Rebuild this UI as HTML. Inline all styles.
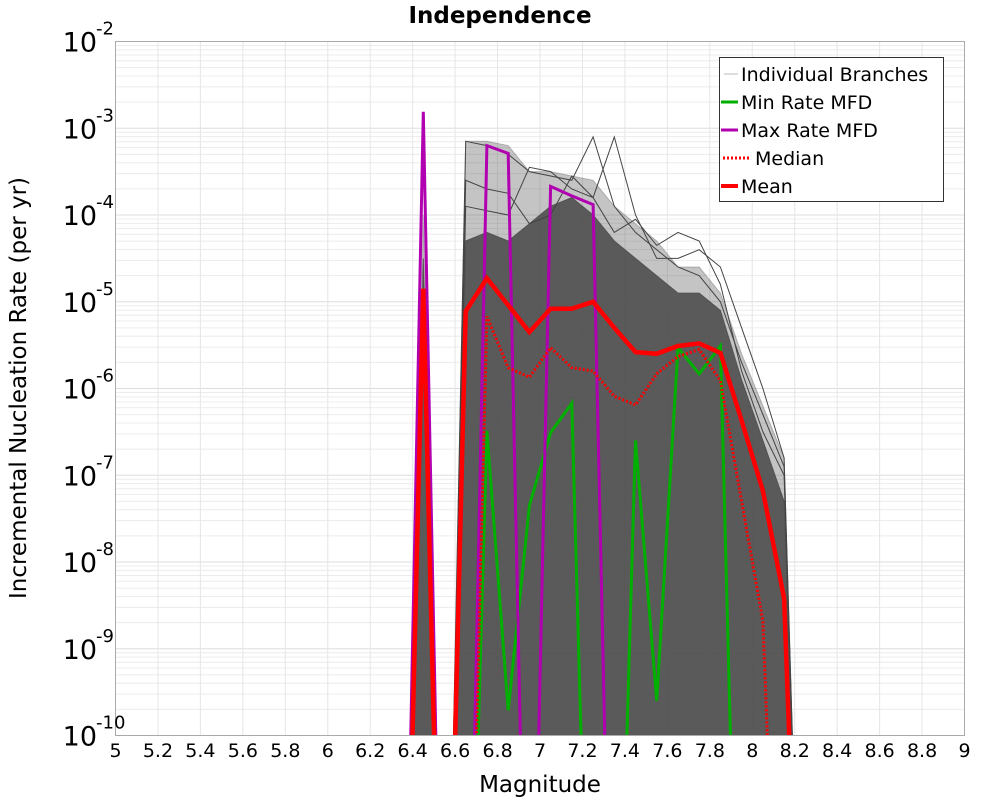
<!DOCTYPE html>
<html><head><meta charset="utf-8"><style>
body{margin:0;background:#fff}
svg{display:block;font-family:"DejaVu Sans","Liberation Sans",sans-serif}
</style></head><body>
<svg id="chart" width="1000" height="800" xmlns="http://www.w3.org/2000/svg">
<text x="500" y="23" text-anchor="middle" font-size="23" font-weight="bold">Independence</text>
<g id="grid"></g>
<g id="branches"></g>
<g id="series"></g>
<rect x="115.5" y="41.5" width="849" height="694" fill="none" stroke="#aaa"/>
<g id="xticks"></g>
<g id="yticks"></g>
<text x="540" y="792" text-anchor="middle" font-size="23">Magnitude</text>
<text transform="translate(26,388) rotate(-90)" text-anchor="middle" font-size="23">Incremental Nucleation Rate (per yr)</text>
<g>
<rect x="719.5" y="57.5" width="224" height="144" fill="#fff" stroke="#333"/>
<line x1="724" y1="74" x2="738" y2="74" stroke="#bbb" stroke-width="1"/>
<text x="741" y="81" font-size="19">Individual Branches</text>
<line x1="721" y1="102" x2="738" y2="102" stroke="#00b000" stroke-width="3"/>
<text x="741" y="109" font-size="19">Min Rate MFD</text>
<line x1="721" y1="130" x2="738" y2="130" stroke="#b000b0" stroke-width="3"/>
<text x="741" y="137" font-size="19">Max Rate MFD</text>
<line x1="723" y1="158" x2="750" y2="158" stroke="#f00" stroke-width="3" stroke-dasharray="2,2"/>
<text x="755" y="165" font-size="19">Median</text>
<line x1="721" y1="186" x2="738" y2="186" stroke="#f00" stroke-width="4"/>
<text x="741" y="193" font-size="19">Mean</text>
</g>
</svg>
<script>
const mags=[6.35,6.45,6.55,6.65,6.75,6.85,6.95,7.05,7.15,7.25,7.35,7.45,7.55,7.65,7.75,7.85,7.95,8.05,8.15,8.25];
// log10 rates; null = zero
const meanLog=[null,-4.85,null,-5.11,-4.73,-5.04,-5.35,-5.08,-5.08,-5.0,-5.3,-5.58,-5.6,-5.51,-5.48,-5.59,-6.37,-7.18,-8.42,null];
const medianLog=[null,null,null,null,-5.17,-5.76,-5.87,-5.53,-5.76,-5.8,-6.09,-6.19,-5.83,-5.63,-5.55,-5.91,-7.3,-8.68,null,null];
const maxLog=[null,-2.81,null,null,-3.2,-3.29,null,-3.67,-3.78,-3.88,null,null,null,null,null,null,null,null,null,null];
const minLog=[null,null,null,null,-6.49,-9.71,-7.35,-6.51,-6.17,null,null,-6.6,-9.6,-5.53,-5.83,-5.51,null,null,null,null];
const envTop=[null,-4.0,null,-3.15,-3.15,-3.2,-3.5,-3.5,-3.55,-3.6,-3.9,-4.1,-4.3,-4.6,-4.6,-4.9,-5.6,-6.2,-6.8,null];
const coreTop=[null,-4.5,null,-4.3,-4.2,-4.3,-4.1,-3.9,-3.8,-4.0,-4.3,-4.5,-4.7,-4.9,-4.9,-5.1,-5.9,-6.6,-7.3,null];
const branchA=[null,null,null,-3.15,-3.2,-3.3,-3.5,-3.55,-3.6,-3.1,-3.9,-4.2,-4.4,-4.6,-4.7,-5.0,-5.7,-6.3,-6.9,null];
const branchB=[null,null,null,-3.9,-3.95,-4.0,-3.45,-3.5,-3.7,-3.8,-3.1,-4.0,-4.5,-4.5,-4.4,-4.6,-5.3,-6.0,-6.8,null];
const branchC=[null,null,null,-3.6,-3.7,-3.75,-4.1,-4.0,-3.55,-3.8,-4.2,-4.05,-4.35,-4.2,-4.3,-4.8,-5.8,-6.5,-7.0,null];
const xTicks=[5,5.2,5.4,5.6,5.8,6,6.2,6.4,6.6,6.8,7,7.2,7.4,7.6,7.8,8,8.2,8.4,8.6,8.8,9];
const yTicks=[-2,-3,-4,-5,-6,-7,-8,-9,-10];
const NS='http://www.w3.org/2000/svg';
const X=m=>115.5+(m-5)*212.25;
const Y=v=>41.5+(-2-v)*86.75;
const BOT=Y(-15);
function mk(tag,attrs,parent){const e=document.createElementNS(NS,tag);for(const k in attrs)e.setAttribute(k,attrs[k]);parent.appendChild(e);return e;}
const grid=document.getElementById('grid');
for(let d=-10;d<-2;d++)for(let k=1;k<10;k++){const y=Y(d+Math.log10(k));const l=mk('line',{x1:115.5,x2:964.5,y1:y,y2:y,stroke:k==1?'#ddd':'#ececec','stroke-width':1},grid);}
xTicks.forEach(t=>{const l=mk('line',{x1:X(t),x2:X(t),y1:41.5,y2:735.5,stroke:'#e6e6e6'},grid);});
function pts(arr){return arr.map((v,i)=>[X(mags[i]),v===null?BOT:Y(v)]);}
function pathOf(arr){return pts(arr).map((p,i)=>(i?'L':'M')+p[0].toFixed(1)+','+p[1].toFixed(1)).join('');}
const br=document.getElementById('branches');
const clip=mk('clipPath',{id:'pc'},mk('defs',{},document.getElementById('chart')));
mk('rect',{x:115.5,y:41.5,width:849,height:694},clip);
br.setAttribute('clip-path','url(#pc)');
function band(arr,fill,op,name){const d=pathOf(arr)+'Z';const p=mk('path',{d:d,fill:fill,'fill-opacity':op,stroke:fill,'stroke-opacity':op,'stroke-width':1},br);}
band(envTop,'#555',0.35,'branch-envelope');
band(coreTop,'#505050',0.92,'branch-core');
[branchA,branchB,branchC].forEach((b,i)=>{const p=mk('path',{d:pathOf(b),fill:'none',stroke:'#444','stroke-width':1},br);});
const sr=document.getElementById('series');sr.setAttribute('clip-path','url(#pc)');
function line(arr,color,w,dash,name){const p=mk('path',{d:pathOf(arr),fill:'none',stroke:color,'stroke-width':w,'stroke-linejoin':'miter'},sr);if(dash)p.setAttribute('stroke-dasharray',dash);}
line(minLog,'#00b000',3,null,'min-rate-line');
line(maxLog,'#b000b0',3,null,'max-rate-line');
line(medianLog,'#f00',3,'2,2','median-line');
line(meanLog,'#f00',4.5,null,'mean-line');
const xt=document.getElementById('xticks');
xTicks.forEach(t=>{const e=mk('text',{x:X(t),y:757,'text-anchor':'middle','font-size':19},xt);e.textContent=String(+t.toFixed(1));});
const yt=document.getElementById('yticks');
yTicks.forEach(t=>{const e=mk('text',{x:97,y:Y(t)+10,'text-anchor':'end','font-size':27},yt);e.textContent='10';
const s=mk('text',{x:96,y:Y(t)-7,'text-anchor':'start','font-size':18},yt);s.textContent=String(t);});
</script>
</body></html>
